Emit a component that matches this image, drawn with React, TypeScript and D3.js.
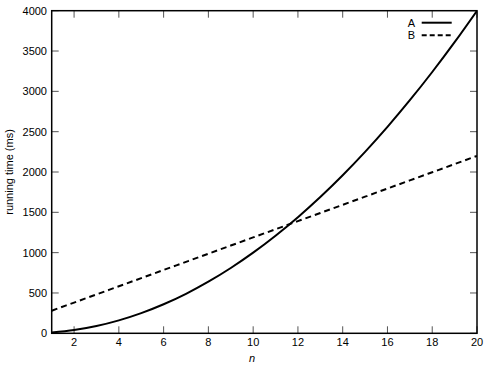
import React from "react";
import * as d3 from "d3";

const nValues = [1, 2, 3, 4, 5, 6, 7, 8, 9, 10, 11, 12, 13, 14, 15, 16, 17, 18, 19, 20];
const seriesA = [10, 40, 90, 160, 250, 360, 490, 640, 810, 1000, 1210, 1440, 1690, 1960, 2250, 2560, 2890, 3240, 3610, 4000];
const seriesB = [280, 381, 482, 583, 684, 785, 886, 987, 1088, 1189, 1290, 1391, 1492, 1593, 1694, 1795, 1896, 1997, 2098, 2200];
const xTicks = [2, 4, 6, 8, 10, 12, 14, 16, 18, 20];
const yTicks = [0, 500, 1000, 1500, 2000, 2500, 3000, 3500, 4000];
const legendLabels = ["A", "B"];

const W = 500, H = 370;
const L = 51.7, R = 477, T = 10.7, B = 333.3;
const font = "'Liberation Sans', Arial, Helvetica, sans-serif";

export default function App() {
  const x = d3.scaleLinear().domain([1, 20]).range([L, R]);
  const y = d3.scaleLinear().domain([0, 4000]).range([B, T]);
  const line = d3.line<number>().x((_, i) => x(nValues[i])).y((d) => y(d)).curve(d3.curveMonotoneX);
  const tickLen = 7;
  const tickColor = "#555";
  return (
    <svg width={W} height={H} style={{ position: "absolute", left: 0, top: 0, background: "#fff" }}>
      <defs>
        <clipPath id="plot">
          <rect x={L} y={T} width={R - L} height={B - T} />
        </clipPath>
      </defs>
      {xTicks.map((t) => (
        <g key={"x" + t}>
          <line x1={x(t)} x2={x(t)} y1={B} y2={B - tickLen} stroke={tickColor} strokeWidth={1} />
          <line x1={x(t)} x2={x(t)} y1={T} y2={T + tickLen} stroke={tickColor} strokeWidth={1} />
          <text x={x(t)} y={346} textAnchor="middle" fontFamily={font} fontSize={11} fill="#000">{t}</text>
        </g>
      ))}
      {yTicks.map((t) => (
        <g key={"y" + t}>
          <line x1={L} x2={L + tickLen} y1={y(t)} y2={y(t)} stroke={tickColor} strokeWidth={1} />
          <line x1={R} x2={R - tickLen} y1={y(t)} y2={y(t)} stroke={tickColor} strokeWidth={1} />
          <text x={47} y={y(t) + 4} textAnchor="end" fontFamily={font} fontSize={11} fill="#000">{t}</text>
        </g>
      ))}
      <g clipPath="url(#plot)">
        <path d={line(seriesA) || ""} fill="none" stroke="#000" strokeWidth={2} />
        <path d={line(seriesB) || ""} fill="none" stroke="#000" strokeWidth={2} strokeDasharray="6,4" />
      </g>
      <rect x={L} y={T} width={R - L} height={B - T} fill="none" stroke="#000" strokeWidth={1.5} />
      {legendLabels.map((lab, i) => (
        <g key={lab}>
          <text x={415} y={26.5 + i * 12.5} textAnchor="end" fontFamily={font} fontSize={11} fill="#000">{lab}</text>
          <line x1={421.7} x2={451.7} y1={22.7 + i * 12.5} y2={22.7 + i * 12.5} stroke="#000" strokeWidth={2} strokeDasharray={i === 1 ? "5,3" : undefined} />
        </g>
      ))}
      <text x={252} y={362} textAnchor="middle" fontFamily={font} fontSize={11} fontStyle="italic" fill="#000">n</text>
      <text transform={`translate(13,${(T + B) / 2}) rotate(-90)`} textAnchor="middle" fontFamily={font} fontSize={11} fill="#000">running time (ms)</text>
    </svg>
  );
}
